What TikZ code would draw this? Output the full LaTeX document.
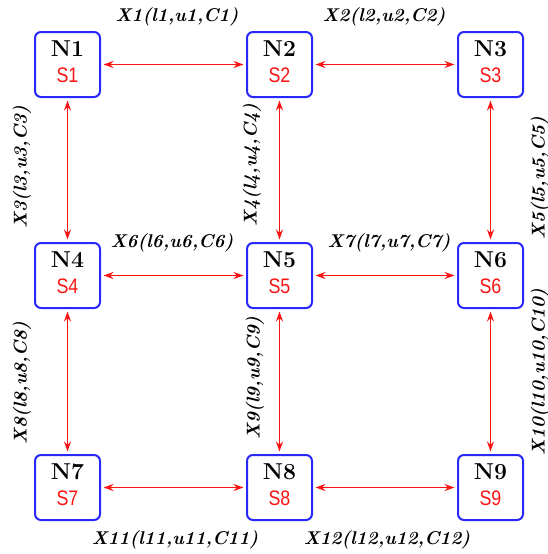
\documentclass[tikz,border=0pt]{standalone}
\usepackage{fontspec}
\newfontfamily\statefont{Liberation Sans}
\usetikzlibrary{arrows.meta}
\definecolor{boxblue}{RGB}{40,40,250}
\definecolor{linkred}{RGB}{250,20,20}
\tikzset{
  x=1pt, y=1pt,
  netnode/.style={draw=boxblue, line width=2pt, rounded corners=6pt,
    minimum width=65pt, minimum height=65pt, inner sep=0pt},
  nodename/.style={anchor=base, inner sep=0pt, font=\fontsize{23}{24}\selectfont\bfseries},
  statename/.style={anchor=base, inner sep=0pt, text=linkred},
  link/.style={draw=linkred, line width=1.6pt,
    {Stealth[length=10pt,width=7pt]}-{Stealth[length=10pt,width=7pt]},
    shorten <=2.5pt, shorten >=2.5pt},
  flowlabel/.style={font=\fontsize{18.5}{20}\selectfont\bfseries\itshape, inner sep=0pt},
}
% box with its node name and state name
\newcommand{\netbox}[5]{%
  \node[netnode] (#1) at (#2,#3) {};
  \node[nodename] (#1-name) at ([yshift=-25pt]#1.north) {#4};
  \node[statename] (#1-state) at ([yshift=-51pt]#1.north)
    {\scalebox{0.85}[1]{\statefont\fontsize{21}{22}\selectfont #5}};
}
\begin{document}
\begin{tikzpicture}
\useasboundingbox (0,0) rectangle (547,-554);
% nodes of the 3x3 grid
\netbox{n1}{67.5}{-64.5}{N1}{S1}
\netbox{n2}{279.5}{-64.5}{N2}{S2}
\netbox{n3}{490.5}{-64.5}{N3}{S3}
\netbox{n4}{67.5}{-275.5}{N4}{S4}
\netbox{n5}{279.5}{-275.5}{N5}{S5}
\netbox{n6}{490.5}{-275.5}{N6}{S6}
\netbox{n7}{67.5}{-487.5}{N7}{S7}
\netbox{n8}{279.5}{-487.5}{N8}{S8}
\netbox{n9}{490.5}{-487.5}{N9}{S9}
% horizontal links
\draw[link] (n1) -- (n2);
\draw[link] (n2) -- (n3);
\draw[link] (n4) -- (n5);
\draw[link] (n5) -- (n6);
\draw[link] (n7) -- (n8);
\draw[link] (n8) -- (n9);
% vertical links
\draw[link] (n1) -- (n4);
\draw[link] (n2) -- (n5);
\draw[link] (n3) -- (n6);
\draw[link] (n4) -- (n7);
\draw[link] (n5) -- (n8);
\draw[link] (n6) -- (n9);
% link labels
\node[flowlabel] (x1) at (177,-17) {X1(l1,u1,C1)};
\node[flowlabel] (x2) at (384,-17) {X2(l2,u2,C2)};
\node[flowlabel] (x6) at (172,-243) {X6(l6,u6,C6)};
\node[flowlabel] (x7) at (389,-243) {X7(l7,u7,C7)};
\node[flowlabel] (x11) at (175,-540) {X11(l11,u11,C11)};
\node[flowlabel] (x12) at (387,-540) {X12(l12,u12,C12)};
\node[flowlabel, rotate=90] (x3) at (22,-167) {X3(l3,u3,C3)};
\node[flowlabel, rotate=90] (x4) at (252,-165) {X4(l4,u4,C4)};
\node[flowlabel, rotate=90] (x5) at (540,-178) {X5(l5,u5,C5)};
\node[flowlabel, rotate=90] (x8) at (22,-383) {X8(l8,u8,C8)};
\node[flowlabel, rotate=90] (x9) at (255,-378) {X9(l9,u9,C9)};
\node[flowlabel, rotate=90] (x10) at (540,-372) {X10(l10,u10,C10)};
\end{tikzpicture}
\end{document}
